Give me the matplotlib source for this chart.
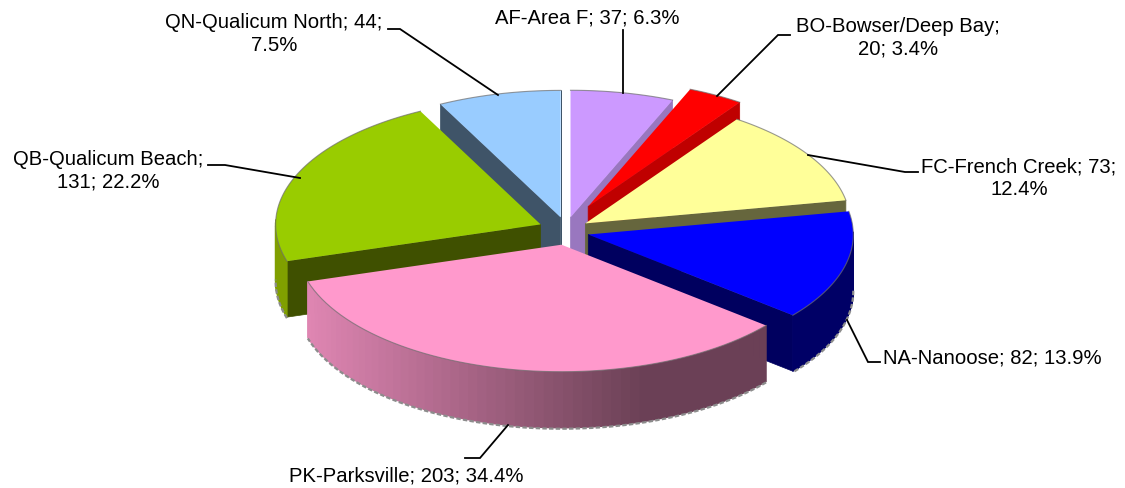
import numpy as np
import matplotlib
matplotlib.use('Agg')
import matplotlib.pyplot as plt

codes = ['AF-Area F', 'BO-Bowser/Deep Bay', 'FC-French Creek', 'NA-Nanoose',
         'PK-Parksville', 'QB-Qualicum Beach', 'QN-Qualicum North']
counts = [37, 20, 73, 82, 203, 131, 44]
percents = [6.3, 3.4, 12.4, 13.9, 34.4, 22.2, 7.5]

top_colors = ['#CC99FF', '#FF0000', '#FFFF99', '#0000FF', '#FF99CC', '#99CC00', '#99CCFF']
side_colors = ['#9977BF', '#BF0000', '#66663D', '#000066', '#FF99CC', '#809F00', '#3F5468']
edge_colors = ['#9977BF', '#BF0000', '#66663D', '#00005F', '#FF99CC', '#3F5000', '#3F5468']
explode = [1, 2, 1, 1, 1, 1.2, 1]
draw_order = [6, 0, 1, 5, 2, 3, 4]

# label text, text position, leader line
label_text = ['AF-Area F; 37; 6.3%', 'BO-Bowser/Deep Bay;\n20; 3.4%', 'FC-French Creek; 73;\n12.4%',
              'NA-Nanoose; 82; 13.9%', 'PK-Parksville; 203; 34.4%', 'QB-Qualicum Beach;\n131; 22.2%',
              'QN-Qualicum North; 44;\n7.5%']
label_xy = [(587, 18), (898, 38), (1019, 178), (992, 358), (406, 476), (108, 171), (274, 34)]
leader_x = [[623, 623, 623], [717, 778, 790], [808, 905, 918], [847, 868, 880],
            [508, 480, 465], [300, 225, 208], [498, 400, 388]]
leader_y = [[93, 40, 30], [96, 35, 35], [155, 172, 172], [320, 362, 362],
            [425, 458, 458], [178, 165, 165], [95, 29, 29]]

cx, cy = 566, 231
rx, ry = 265, 127
ex, ey = 23, 14
depth = 56

fig = plt.figure(figsize=(11.25, 4.88), dpi=100)
ax = fig.add_axes([0, 0, 1, 1])
ax.set_xlim(0, 1125)
ax.set_ylim(488, 0)
ax.axis('off')

total = sum(percents)
stops = np.concatenate([[0], np.cumsum(percents)]) / total * 2 * np.pi

for i in draw_order:
    a0, a1 = stops[i], stops[i + 1]
    mid = (a0 + a1) / 2
    ox = cx + explode[i] * ex * np.sin(mid)
    oy = cy - explode[i] * ey * np.cos(mid)
    t = np.linspace(a0, a1, 60)
    xs = ox + rx * np.sin(t)
    ys = oy - ry * np.cos(t)

    # flat cut faces, only those turned towards the viewer
    if np.sin(a0) < 0:
        ax.fill([ox, xs[0], xs[0], ox], [oy, ys[0], ys[0] + depth, oy + depth],
                color=edge_colors[i], lw=0.5)
    if np.sin(a1) > 0:
        ax.fill([ox, xs[-1], xs[-1], ox], [oy, ys[-1], ys[-1] + depth, oy + depth],
                color=edge_colors[i], lw=0.5)

    # rim, in thin strips so the pink one can darken to the right
    for j in range(len(t) - 1):
        if np.cos(t[j]) > 0.02 and np.cos(t[j + 1]) > 0.02:
            continue
        c = np.array(matplotlib.colors.to_rgb(side_colors[i]))
        if i == 4:
            c = c * (0.88 - 0.46 * np.clip((xs[j] - 306) / 340, 0, 1))
        ax.fill([xs[j], xs[j + 1], xs[j + 1], xs[j]],
                [ys[j], ys[j + 1], ys[j + 1] + depth, ys[j] + depth], color=c, lw=1.0)
    low = np.cos(t) <= 0.02
    if low.any():
        ax.plot(xs[low], ys[low] + depth + 1, color='#8C8C8C', lw=1.6, ls=(0, (2, 1)))

    ax.fill(np.r_[ox, xs], np.r_[oy, ys], color=top_colors[i], lw=0)
    ax.plot(xs, ys, color='#6E6E6E', lw=0.8, alpha=0.7)

for i in range(len(codes)):
    ax.plot(leader_x[i], leader_y[i], color='black', lw=1.3, solid_joinstyle='miter')
    ax.text(label_xy[i][0], label_xy[i][1], label_text[i], ha='center', va='center',
            family='Liberation Sans', fontsize=14.6, linespacing=1.25, color='black')

fig.savefig('out.png', dpi=100, facecolor='white')
